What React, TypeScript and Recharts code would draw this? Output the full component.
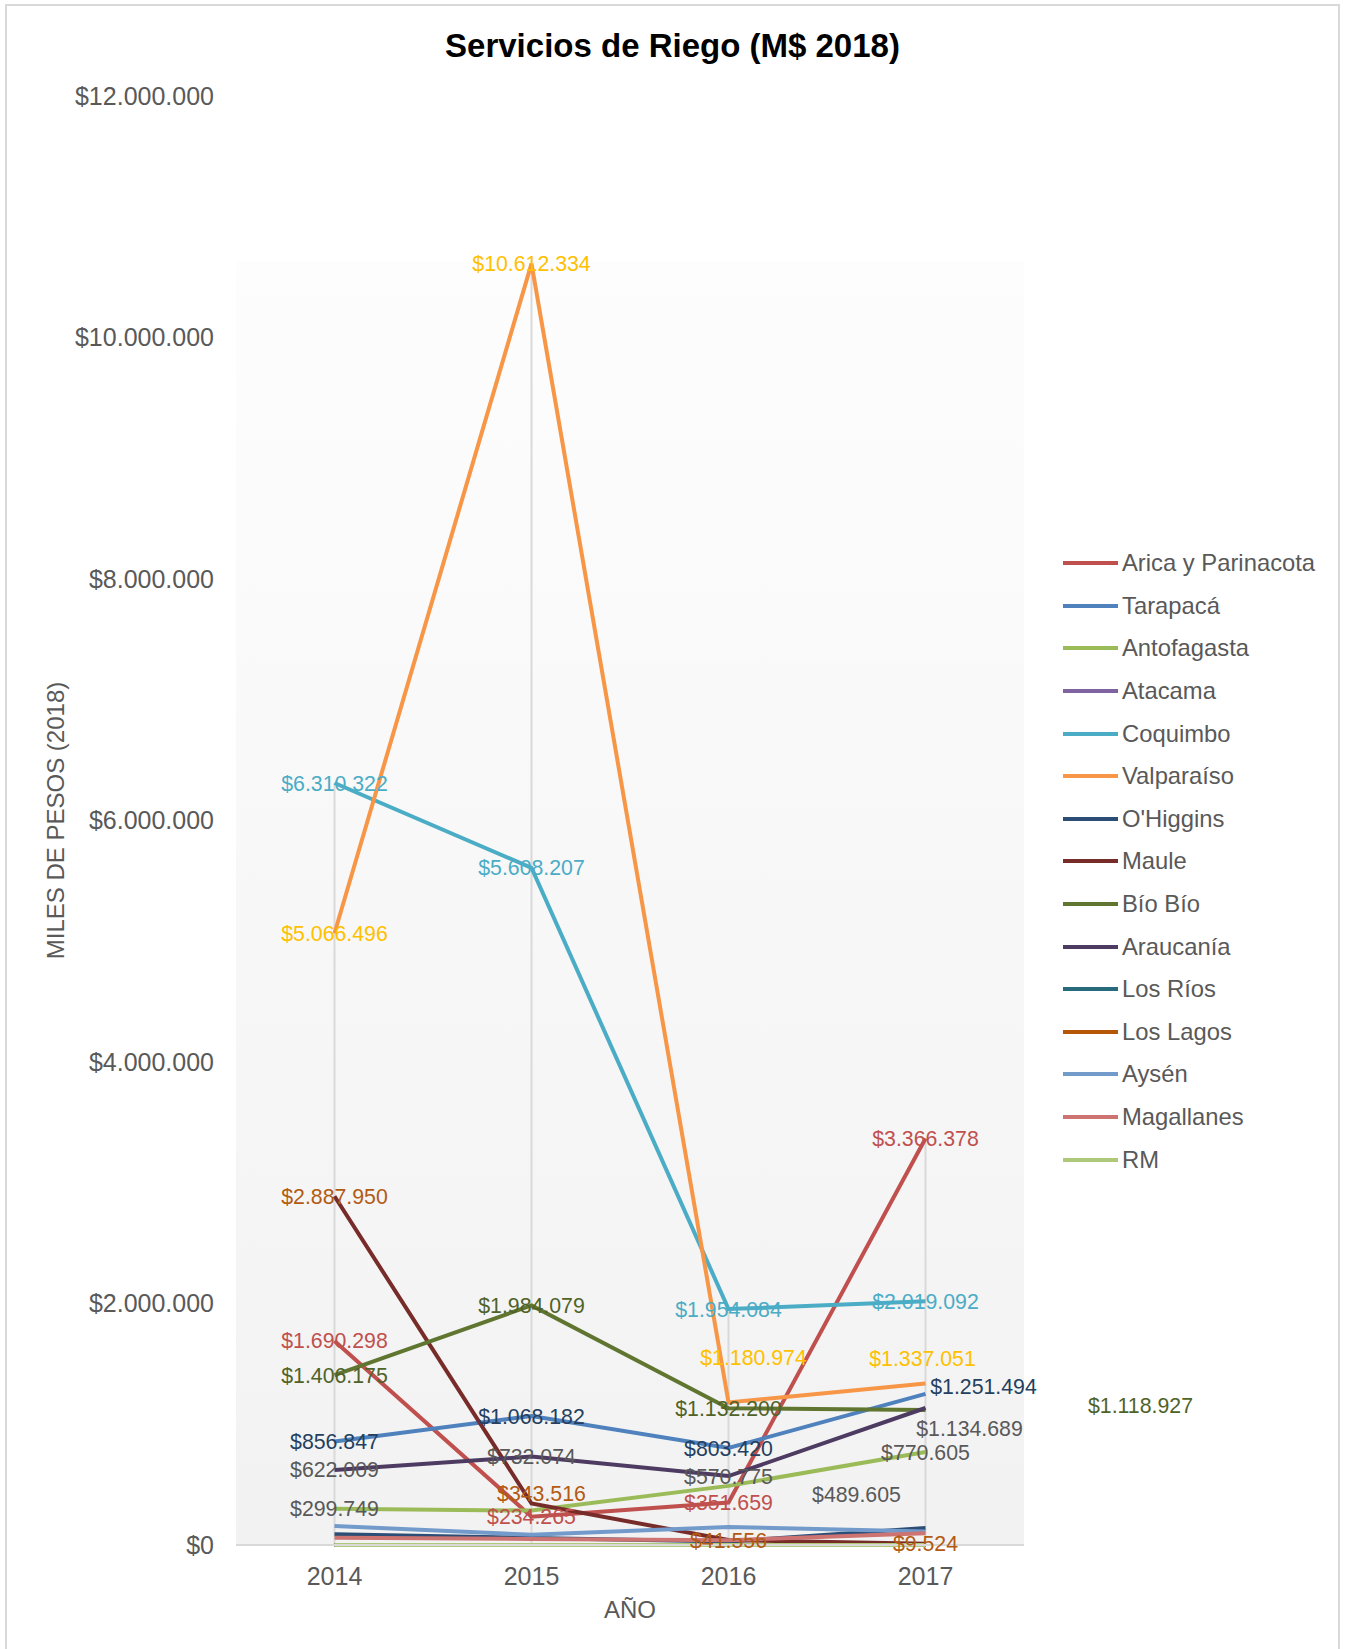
import React from 'react';
import { LineChart, Line, XAxis, YAxis, ReferenceLine, Legend, LabelList } from 'recharts';

const FONT = "'Liberation Sans', Arial, sans-serif";

const years = ['2014', '2015', '2016', '2017'];
const yTicks = [0, 2000000, 4000000, 6000000, 8000000, 10000000, 12000000];

// valores en miles de pesos (2018)
const aricaParinacota = [1690298, 234265, 351659, 3366378];
const tarapaca = [856847, 1068182, 803420, 1251494];
const antofagasta = [299749, 285000, 489605, 770605];
const atacama = [0, 0, 0, 0];
const coquimbo = [6310322, 5608207, 1954084, 2019092];
const valparaiso = [5066496, 10612334, 1180974, 1337051];
const ohiggins = [88000, 58000, 28000, 141000];
const maule = [2887950, 343516, 41556, 9524];
const bioBio = [1406175, 1984079, 1132200, 1118927];
const araucania = [622009, 732074, 570775, 1134689];
const losRios = [0, 0, 0, 0];
const losLagos = [0, 0, 0, 0];
const aysen = [157000, 85000, 149000, 112000];
const magallanes = [60000, 50000, 40000, 97000];
const rm = [0, 0, 0, 0];

const series = [
  { key: 's1', name: 'Arica y Parinacota', values: aricaParinacota, color: '#C0504D', labelColor: '#C0504D' },
  { key: 's2', name: 'Tarapacá', values: tarapaca, color: '#4F81BD', labelColor: '#243F60' },
  { key: 's3', name: 'Antofagasta', values: antofagasta, color: '#9BBB59', labelColor: '#595959' },
  { key: 's4', name: 'Atacama', values: atacama, color: '#8064A2', labelColor: null },
  { key: 's5', name: 'Coquimbo', values: coquimbo, color: '#4BACC6', labelColor: '#4BACC6' },
  { key: 's6', name: 'Valparaíso', values: valparaiso, color: '#F79646', labelColor: '#FFC000' },
  { key: 's7', name: "O'Higgins", values: ohiggins, color: '#2C4D75', labelColor: null },
  { key: 's8', name: 'Maule', values: maule, color: '#772C2A', labelColor: '#B35A12' },
  { key: 's9', name: 'Bío Bío', values: bioBio, color: '#5F7530', labelColor: '#4F6228' },
  { key: 's10', name: 'Araucanía', values: araucania, color: '#4D3B62', labelColor: '#595959' },
  { key: 's11', name: 'Los Ríos', values: losRios, color: '#276A7C', labelColor: null },
  { key: 's12', name: 'Los Lagos', values: losLagos, color: '#B65708', labelColor: null },
  { key: 's13', name: 'Aysén', values: aysen, color: '#729ACA', labelColor: null },
  { key: 's14', name: 'Magallanes', values: magallanes, color: '#CD7371', labelColor: null },
  { key: 's15', name: 'RM', values: rm, color: '#AFC97A', labelColor: null },
];

// etiquetas movidas a mano en el original (dx, dy)
const labelNudges: Record<string, Record<number, [number, number]>> = {
  s6: { 2: [25, -45], 3: [-3, -25] },
  s2: { 3: [58, -7] },
  s9: { 3: [215, -4] },
  s10: { 3: [44, 20] },
  s3: { 2: [128, 9] },
  s8: { 1: [10, -10] },
};
const hiddenLabels: Record<string, number[]> = { s3: [1] };

const data = years.map((year, i) => {
  const row: any = { year };
  series.forEach((s) => {
    row[s.key] = s.values[i];
  });
  return row;
});

const yearMax = years.map((_, i) => Math.max(...series.map((s) => s.values[i])));

const fmt = (v: number) => '$' + Math.round(v).toString().replace(/\B(?=(\d{3})+(?!\d))/g, '.');

const makeLabel = (s: any) => (props: any) => {
  const { x, y, value, index } = props;
  if (value == null || (hiddenLabels[s.key] || []).includes(index)) return null;
  const [dx, dy] = (labelNudges[s.key] || {})[index] || [0, 0];
  return (
    <text
      key={`${s.key}-${index}`}
      x={x + dx}
      y={y + dy + 7.6}
      textAnchor="middle"
      fill={s.labelColor}
      fontSize={21.3}
      fontFamily={FONT}
    >
      {fmt(value)}
    </text>
  );
};

const renderLegend = () => (
  <div style={{ fontFamily: FONT }}>
    {series.map((s) => (
      <div key={s.key} style={{ display: 'flex', alignItems: 'center', height: 42.6 }}>
        <div style={{ width: 55, height: 4, background: s.color, marginRight: 4, flexShrink: 0 }} />
        <span style={{ fontSize: 23.8, color: '#595959', whiteSpace: 'nowrap' }}>{s.name}</span>
      </div>
    ))}
  </div>
);

export default function App() {
  return (
    <div
      style={{
        position: 'absolute',
        left: 0,
        top: 0,
        width: 1345,
        height: 1649,
        overflow: 'hidden',
        background: '#fff',
        fontFamily: FONT,
      }}
    >
      <div
        style={{
          position: 'absolute',
          left: 5,
          top: 4,
          width: 1335,
          height: 1700,
          border: '2px solid #d9d9d9',
          boxSizing: 'border-box',
        }}
      />
      <div
        style={{
          position: 'absolute',
          left: 236,
          top: 261,
          width: 788,
          height: 1284,
          background: 'linear-gradient(to bottom, #fdfdfd, #f2f2f2)',
        }}
      />
      <div
        style={{
          position: 'absolute',
          left: 0,
          top: 29,
          width: 1345,
          textAlign: 'center',
          fontSize: 33,
          lineHeight: '33px',
          fontWeight: 'bold',
          color: '#000',
        }}
      >
        Servicios de Riego (M$ 2018)
      </div>
      <div style={{ position: 'absolute', left: 0, top: 0 }}>
        <LineChart
          width={1345}
          height={1649}
          data={data}
          margin={{ top: 96, right: 321, bottom: 14, left: 36 }}
        >
          <XAxis
            dataKey="year"
            type="category"
            padding={{ left: 98.5, right: 98.5 }}
            height={90}
            axisLine={{ stroke: '#d9d9d9', strokeWidth: 2 }}
            tickLine={false}
            tickMargin={16}
            tick={{ fontSize: 25, fill: '#595959', fontFamily: FONT }}
            label={{
              value: 'AÑO',
              position: 'insideBottom',
              offset: 17,
              fontSize: 24,
              fill: '#595959',
              fontFamily: FONT,
            }}
          />
          <YAxis
            width={200}
            domain={[0, 12000000]}
            ticks={yTicks}
            interval={0}
            axisLine={false}
            tickLine={false}
            tickMargin={16}
            tickFormatter={fmt}
            tick={{ fontSize: 25, fill: '#595959', fontFamily: FONT }}
            label={{
              value: 'MILES DE PESOS (2018)',
              angle: -90,
              position: 'insideLeft',
              offset: 19,
              fontSize: 24,
              fill: '#595959',
              fontFamily: FONT,
              style: { textAnchor: 'middle' },
            }}
          />
          {years.map((y, i) => (
            <ReferenceLine
              key={`drop-${y}`}
              segment={[
                { x: y, y: 0 },
                { x: y, y: yearMax[i] },
              ]}
              stroke="#d9d9d9"
              strokeWidth={2}
            />
          ))}
          <Legend
            layout="horizontal"
            verticalAlign="middle"
            align="center"
            content={renderLegend}
            wrapperStyle={{ left: 1063, top: 542, width: 282 }}
          />
          {series.map((s) => (
            <Line
              key={s.key}
              type="linear"
              dataKey={s.key}
              name={s.name}
              stroke={s.color}
              strokeWidth={4}
              dot={false}
              activeDot={false}
              isAnimationActive={false}
            />
          ))}
          {series
            .filter((s) => s.labelColor)
            .map((s) => (
              <Line
                key={`lbl-${s.key}`}
                type="linear"
                dataKey={s.key}
                stroke="none"
                dot={false}
                activeDot={false}
                legendType="none"
                isAnimationActive={false}
              >
                <LabelList dataKey={s.key} content={makeLabel(s)} />
              </Line>
            ))}
        </LineChart>
      </div>
    </div>
  );
}
